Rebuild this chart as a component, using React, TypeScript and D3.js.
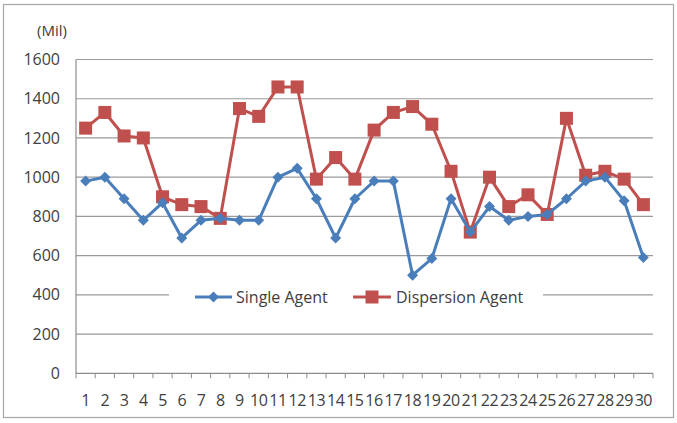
import React from 'react'
import * as d3 from 'd3'

const days = d3.range(1, 31).map(String)
const singleAgent = [980, 1000, 890, 780, 870, 690, 780, 790, 780, 780, 1000, 1045, 890, 690, 890, 980, 980, 500, 585, 890, 720, 850, 780, 800, 810, 890, 980, 1000, 880, 590]
const dispersionAgent = [1250, 1330, 1210, 1200, 900, 860, 850, 790, 1350, 1310, 1460, 1460, 990, 1100, 990, 1240, 1330, 1360, 1270, 1030, 720, 1000, 850, 910, 810, 1300, 1010, 1030, 990, 860]
const yTicks = [0, 200, 400, 600, 800, 1000, 1200, 1400, 1600]

const W = 677
const H = 423
const left = 76
const right = 653
const top = 59.5
const bottom = 373.3
const font = '"Open Sans", "Liberation Sans", sans-serif'
const blue = '#4a7ebb'
const red = '#c0504d'
const textColor = '#404040'

export default function App() {
  const x = d3.scaleBand().domain(days).range([left, right])
  const y = d3.scaleLinear().domain([0, 1600]).range([bottom, top])
  const cx = (d: string) => (x(d) || 0) + x.bandwidth() / 2
  const line = d3.line<number>().x((_, i) => cx(days[i])).y((v) => y(v))
  const diamond = (s: number) => `M0,${-s} L${s},0 L0,${s} L${-s},0 Z`

  return (
    <svg width={W} height={H} style={{ position: 'absolute', left: 0, top: 0, background: '#fff' }} fontFamily={font}>
      <rect x={3.5} y={4.5} width={670} height={413} fill="#fff" stroke="#a6a6a6" strokeWidth={1.2} />
      <text x={37} y={31} dy="0.35em" fontSize={15} fill={textColor}>(Mil)</text>
      {yTicks.map((t) => {
        const isLegendRow = t === 400
        return (
          <g key={t}>
            {t > 0 && !isLegendRow && (
              <line x1={left} x2={right} y1={y(t)} y2={y(t)} stroke="#9a9a9a" strokeWidth={1.2} />
            )}
            {isLegendRow && (
              <>
                <line x1={left} x2={169} y1={y(t)} y2={y(t)} stroke="#9a9a9a" strokeWidth={1.2} />
                <line x1={543} x2={right} y1={y(t)} y2={y(t)} stroke="#9a9a9a" strokeWidth={1.2} />
              </>
            )}
            <text x={60} y={y(t)} dy="0.35em" textAnchor="end" fontSize={16} fill={textColor}>{t}</text>
          </g>
        )
      })}
      <line x1={left} x2={left} y1={top} y2={bottom} stroke="#8c8c8c" strokeWidth={1.2} />
      <line x1={left} x2={right} y1={bottom} y2={bottom} stroke="#8c8c8c" strokeWidth={1.2} />
      {d3.range(31).map((i) => {
        const xx = left + i * x.bandwidth()
        return <line key={i} x1={xx} x2={xx} y1={bottom} y2={bottom + 5} stroke="#8c8c8c" strokeWidth={1} />
      })}
      {days.map((d) => (
        <text key={d} x={cx(d)} y={400} dy="0.35em" textAnchor="middle" fontSize={16} fill={textColor} letterSpacing={-0.4}>{d}</text>
      ))}
      <path d={line(dispersionAgent) || ''} fill="none" stroke={red} strokeWidth={3} strokeLinejoin="round" />
      {dispersionAgent.map((v, i) => (
        <rect key={i} x={cx(days[i]) - 6.5} y={y(v) - 6.5} width={13} height={13} fill={red} />
      ))}
      <path d={line(singleAgent) || ''} fill="none" stroke={blue} strokeWidth={3} strokeLinejoin="round" />
      {singleAgent.map((v, i) => (
        <path key={i} d={diamond(5.5)} transform={`translate(${cx(days[i])},${y(v)})`} fill={blue} />
      ))}
      <g transform="translate(0,297)">
        <line x1={195} x2={232} y1={0} y2={0} stroke={blue} strokeWidth={3} />
        <path d={diamond(5.5)} transform="translate(213.5,0)" fill={blue} />
        <text x={236} y={0} dy="0.35em" fontSize={16} fill={textColor}>Single Agent</text>
        <line x1={353} x2={391} y1={0} y2={0} stroke={red} strokeWidth={3} />
        <rect x={365.5} y={-6.5} width={13} height={13} fill={red} />
        <text x={396} y={0} dy="0.35em" fontSize={16} fill={textColor}>Dispersion Agent</text>
      </g>
    </svg>
  )
}
